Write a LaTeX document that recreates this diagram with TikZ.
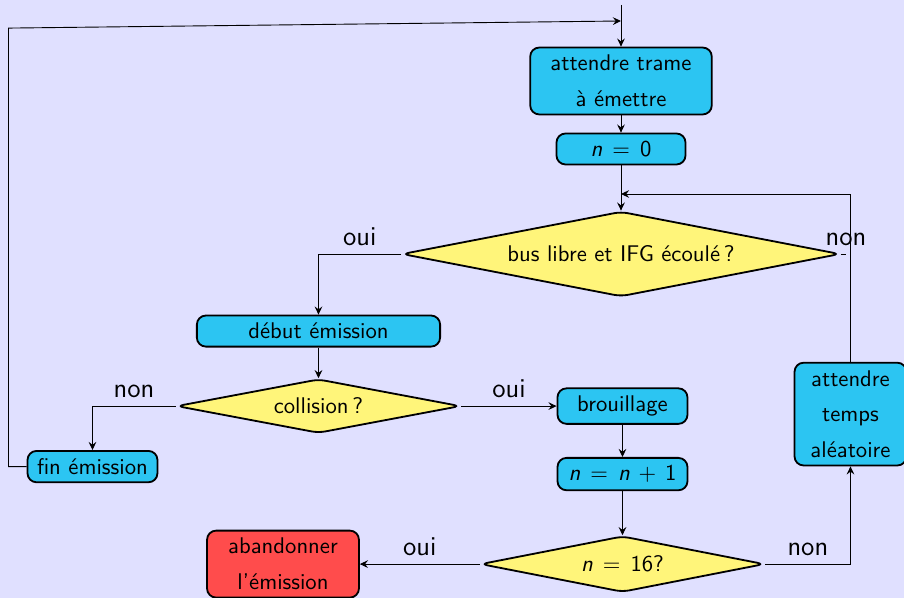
\documentclass[tikz,border=0pt]{standalone}
\usepackage{tikz}
\usetikzlibrary{positioning,shapes.geometric,arrows.meta}

\definecolor{fond}{RGB}{224,224,255}
\definecolor{bleu}{RGB}{44,197,242}
\definecolor{jaune}{RGB}{255,245,122}
\definecolor{rouge}{RGB}{255,76,76}

\begin{document}
\begin{tikzpicture}[font=\sffamily,on grid,>={Stealth[length=3.6pt,width=3.4pt,inset=1.3pt]}]
        \tikzstyle{boite}=[draw,thick,rectangle,rounded corners=4pt,fill=bleu,align=center]
        \tikzstyle{losange}=[draw,thick,diamond,aspect=5,inner sep=1pt,rounded corners=3pt,fill=jaune,align=center]
        \tikzstyle{etiq}=[font=\sffamily\large,above]
        \path[use as bounding box,fill=fond] (-9.6255,1.2555) rectangle (4.3865,-8.0135);

        % emission
        \node[boite,text width=2.58cm] (trame) {attendre trame\\[3.8pt] à émettre};
        \node[boite,minimum width=2cm] (zero) [below=1.054cm of trame] {$\textit{n}\,=\,\mbox{0}$};
        \node[losange,minimum width=6.79cm,minimum height=1.318cm] (libre) [below=1.628cm of zero] {bus libre et IFG écoulé\,?};
        \node[boite,minimum width=3.77cm] (debut) [below left=1.194cm and 4.689cm of libre] {début émission};
        \node[losange,minimum width=4.4cm,minimum height=0.837cm] (collision) [below=1.163cm of debut] {collision\,?};
        \node[boite,minimum width=2.015cm] (fin) [below left=0.938cm and 3.503cm of collision] {fin émission};

        % collision
        \node[boite,minimum width=2.015cm] (brouillage) [right=4.712cm of collision] {brouillage};
        \node[boite,minimum width=2.015cm] (incr) [below=1.054cm of brouillage] {$\textit{n}\,=\,\textit{n}\,+\,\mbox{1}$};
        \node[losange,minimum width=4.4cm,minimum height=0.868cm] (seize) [below=1.395cm of incr] {$\textit{n}\,=\,\mbox{16}$?};
        \node[boite,text width=2.12cm,fill=rouge] (abandon) [left=5.262cm of seize] {abandonner\\[3.8pt] l'émission};
        \node[boite,text width=1.5cm] (attente) [above right=2.325cm and 3.534cm of seize] {attendre\\[3.8pt] temps\\[3.8pt] aléatoire};

        \coordinate[above=1.178cm of trame] (entree);
        \coordinate[above=0.93cm of trame] (retour);
        \coordinate[below=0.6975cm of zero] (rejoint);

        \draw[->] (entree) -- (trame);
        \draw[->] (trame) -- (zero);
        \draw[->] (zero) -- (libre);
        \draw[->] (libre.west) -| node[etiq,pos=0.25] {oui} (debut);
        \draw (libre.east) -- ++(0.078,0) node[etiq] {non};
        \draw[->] (debut) -- (collision);
        \draw[->] (collision.west) -| node[etiq,pos=0.25] {non} (fin);
        \draw[->] (fin.west) -- ++(-0.28,0) -- ++(0,6.797) -- (retour);
        \draw[->] (collision) -- node[etiq] {oui} (brouillage);
        \draw[->] (brouillage) -- (incr);
        \draw[->] (incr) -- (seize);
        \draw[->] (seize) -- node[etiq] {oui} (abandon);
        \draw[->] (seize.east) -| node[etiq,pos=0.25] {non} (attente);
        \draw[->] (attente) |- (rejoint);
    \end{tikzpicture}
\end{document}
